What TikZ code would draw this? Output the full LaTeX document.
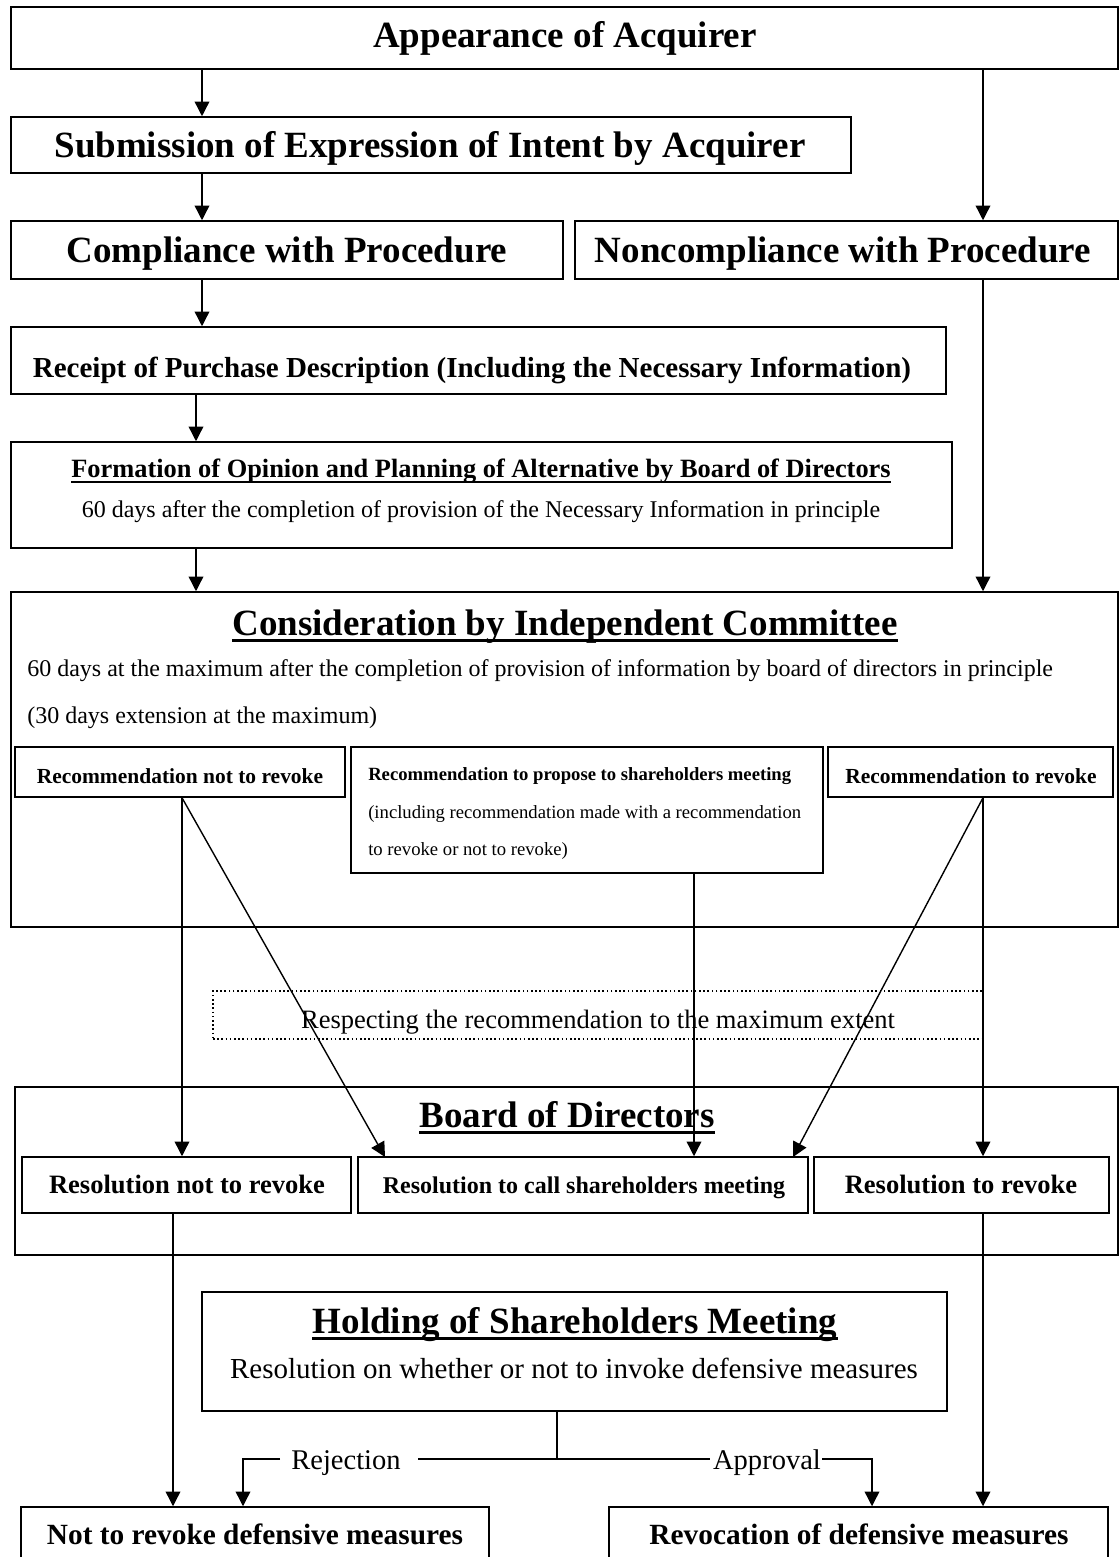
\documentclass[tikz,border=0pt]{standalone}
\usepackage{fontspec}
\setmainfont{Liberation Serif}
\usetikzlibrary{arrows.meta,fit}
\newcommand\mybox[6][]{\node[box,#1,fit={(#3,#4)(#5,#6)}] (#2) {};}
\begin{document}
\begin{tikzpicture}[x=0.75pt,y=-0.75pt,
  box/.style={draw,line width=1.15pt,inner sep=0pt,rectangle},
  arr/.style={line width=1.05pt,-{Triangle[length=11pt,width=11pt]}},
  ln/.style={line width=1.05pt},
  txt/.style={inner sep=0pt,anchor=base},
  ttl/.style={txt,font=\bfseries\fontsize{27.75}{32}\selectfont},
  ul/.style={line width=1.9pt}]
\useasboundingbox (0,0) rectangle (1120,1557);
\clip (0,0) rectangle (1120,1557);

% boxes
\mybox{A}{11}{7}{1118}{69}
\mybox{sub}{11}{117}{851}{173}
\mybox{comp}{11}{221}{563}{279}
\mybox{ncomp}{575}{221}{1118}{279}
\mybox{rec}{11}{327}{946}{394}
\mybox{form}{11}{442}{952}{548}
\mybox{cons}{11}{592}{1118}{927}
\mybox{recL}{15}{747}{345}{797}
\mybox{recM}{351}{747}{823}{873}
\mybox{recR}{828}{747}{1113}{797}
\mybox[dotted,line width=0.8pt]{resp}{213}{991}{983}{1039}
\mybox{board}{15}{1087}{1118}{1255}
\mybox{resL}{22}{1157}{351}{1213}
\mybox{resM}{358}{1157}{808}{1213}
\mybox{resR}{814}{1157}{1109}{1213}
\mybox{hold}{202}{1292}{947}{1411}
\mybox{BL}{21}{1507}{489}{1600}
\mybox{BR}{609}{1507}{1108}{1600}

% texts
\node[ttl] (tA) at (565,47) {Appearance of Acquirer};
\node[ttl] (tsub) at (430,157) {Submission of Expression of Intent by Acquirer};
\node[ttl] (tcomp) at (287,262) {Compliance with Procedure};
\node[ttl] (tncomp) at (843,262) {Noncompliance with Procedure};
\node[txt,font=\bfseries\fontsize{21.75}{26}\selectfont] (trec) at (472,377) {Receipt of Purchase Description (Including the Necessary Information)};
\node[txt,font=\bfseries\fontsize{19.8}{24}\selectfont] (tform) at (481,477) {Formation of Opinion and Planning of Alternative by Board of Directors};
\draw[ul] ([yshift=-3.8pt]tform.base west) -- ([yshift=-3.8pt]tform.base east);
\node[txt,font=\fontsize{18}{22}\selectfont] (tform2) at (481,517) {60 days after the completion of provision of the Necessary Information in principle};

\node[ttl] (tcons) at (565,635) {Consideration by Independent Committee};
\draw[ul] ([yshift=-4.2pt]tcons.base west) -- ([yshift=-4.2pt]tcons.base east);
\node[txt,anchor=base west,font=\fontsize{18}{22}\selectfont] (tcons1) at (27,676) {60 days at the maximum after the completion of provision of information by board of directors in principle};
\node[txt,anchor=base west,font=\fontsize{18}{22}\selectfont] (tcons2) at (27,723) {(30 days extension at the maximum)};

\node[txt,font=\bfseries\fontsize{16.1}{20}\selectfont] (trecL) at (180,783) {Recommendation not to revoke};
\node[txt,anchor=base west,font=\bfseries\fontsize{14}{17}\selectfont] (trecM1) at (368,780) {Recommendation to propose to shareholders meeting};
\node[txt,anchor=base west,font=\fontsize{14}{17}\selectfont] (trecM2) at (368,818) {(including recommendation made with a recommendation};
\node[txt,anchor=base west,font=\fontsize{14}{17}\selectfont] (trecM3) at (368,855) {to revoke or not to revoke)};
\node[txt,font=\bfseries\fontsize{16.1}{20}\selectfont] (trecR) at (971,783) {Recommendation to revoke};

\node[txt,font=\fontsize{19.9}{24}\selectfont] (tresp) at (598,1028) {Respecting the recommendation to the maximum extent};

\node[ttl] (tboard) at (567,1127) {Board of Directors};
\draw[ul] ([yshift=-4.2pt]tboard.base west) -- ([yshift=-4.2pt]tboard.base east);
\node[txt,font=\bfseries\fontsize{19.9}{24}\selectfont] (tresL) at (187,1193) {Resolution not to revoke};
\node[txt,font=\bfseries\fontsize{18}{22}\selectfont] (tresM) at (584,1193) {Resolution to call shareholders meeting};
\node[txt,font=\bfseries\fontsize{19.9}{24}\selectfont] (tresR) at (961,1193) {Resolution to revoke};

\node[ttl] (thold) at (575,1333) {Holding of Shareholders Meeting};
\draw[ul] ([yshift=-4.2pt]thold.base west) -- ([yshift=-4.2pt]thold.base east);
\node[txt,font=\fontsize{21.75}{26}\selectfont] (thold2) at (574,1378) {Resolution on whether or not to invoke defensive measures};

\node[txt,font=\fontsize{21.4}{26}\selectfont] (trej) at (346,1469) {Rejection};
\node[txt,font=\fontsize{21.4}{26}\selectfont] (tapp) at (767,1469) {Approval};

\node[txt,font=\bfseries\fontsize{22}{26}\selectfont] (tBL) at (255,1544) {Not to revoke defensive measures};
\node[txt,font=\bfseries\fontsize{22}{26}\selectfont] (tBR) at (859,1544) {Revocation of defensive measures};

% column coordinates
\coordinate (x1) at (202,0);
\coordinate (x2) at (196,0);
\coordinate (xr) at (983,0);
\coordinate (xl) at (182,0);
\coordinate (xm) at (694,0);
\coordinate (xb) at (173,0);
\coordinate (dl) at (385,1157);
\coordinate (dr) at (793,1157);
\coordinate (jn) at (557,1459);
\coordinate (rejR) at (418,1459);
\coordinate (rejL) at (280,1459);
\coordinate (rejC) at (243,1459);
\coordinate (appL) at (710,1459);
\coordinate (appR) at (822,1459);
\coordinate (appC) at (872,1459);

% connectors
\draw[arr] (A.south -| x1) -- (sub.north -| x1);
\draw[arr] (sub.south -| x1) -- (comp.north -| x1);
\draw[arr] (A.south -| xr) -- (ncomp.north -| xr);
\draw[arr] (comp.south -| x1) -- (rec.north -| x1);
\draw[arr] (rec.south -| x2) -- (form.north -| x2);
\draw[arr] (form.south -| x2) -- (cons.north -| x2);
\draw[arr] (ncomp.south -| xr) -- (cons.north -| xr);
\draw[arr] (recL.south -| xl) -- (resL.north -| xl);
\draw[arr] (recL.south -| xl) -- (dl);
\draw[arr] (recM.south -| xm) -- (resM.north -| xm);
\draw[arr] (recR.south -| xr) -- (dr);
\draw[arr] (recR.south -| xr) -- (resR.north -| xr);
\draw[arr] (resL.south -| xb) -- (BL.north -| xb);
\draw[arr] (resR.south -| xr) -- (BR.north -| xr);
\draw[ln] (hold.south -| jn) -- (jn);
\draw[ln] (jn) -- (rejR);
\draw[arr] (rejL) -- (rejC) -- (BL.north -| rejC);
\draw[ln] (jn) -- (appL);
\draw[arr] (appR) -- (appC) -- (BR.north -| appC);
\end{tikzpicture}
\end{document}
